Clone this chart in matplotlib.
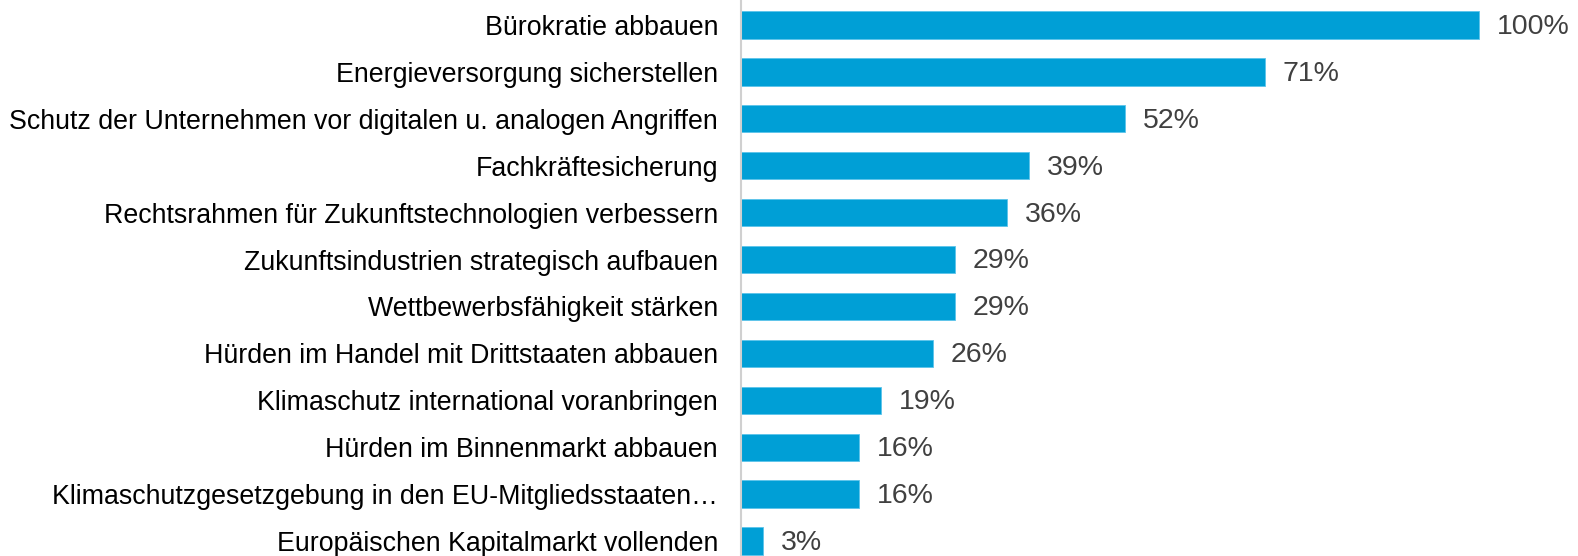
import matplotlib

matplotlib.use("Agg")
import matplotlib.pyplot as plt

plt.rcParams["font.family"] = ["Liberation Sans", "DejaVu Sans"]

categories = [
    "Bürokratie abbauen",
    "Energieversorgung sicherstellen",
    "Schutz der Unternehmen vor digitalen u. analogen Angriffen",
    "Fachkräftesicherung",
    "Rechtsrahmen für Zukunftstechnologien verbessern",
    "Zukunftsindustrien strategisch aufbauen",
    "Wettbewerbsfähigkeit stärken",
    "Hürden im Handel mit Drittstaaten abbauen",
    "Klimaschutz international voranbringen",
    "Hürden im Binnenmarkt abbauen",
    "Klimaschutzgesetzgebung in den EU-Mitgliedsstaaten…",
    "Europäischen Kapitalmarkt vollenden",
]
values = [100, 71, 52, 39, 36, 29, 29, 26, 19, 16, 16, 3]

BAR_COLOR = "#009FD6"

fig = plt.figure(figsize=(15.78, 5.56), dpi=100)
ax = fig.add_axes([741 / 1578, 0.0, 1 - 741 / 1578, 1.0])

ypos = list(range(len(categories)))
ax.barh(ypos, values, height=0.58, color=BAR_COLOR, edgecolor="#5cc4ea", linewidth=0.6)

for y, v in zip(ypos, values):
    ax.text(v + 2.4, y + 0.04, f"{v}%", va="center", ha="left", fontsize=20.5, color="#404040")

ax.set_xlim(0, 113.4)
ax.set_ylim(11.32, -0.533)
ax.set_yticks(ypos)
ax.set_yticklabels(categories, fontsize=19.3, color="black")
ax.tick_params(axis="y", length=0, pad=16.5)
ax.set_xticks([])
for side in ("top", "right", "bottom"):
    ax.spines[side].set_visible(False)
ax.spines["left"].set_color("#d0d0d0")
ax.spines["left"].set_linewidth(1.5)

fig.savefig("out.png", dpi=100)
